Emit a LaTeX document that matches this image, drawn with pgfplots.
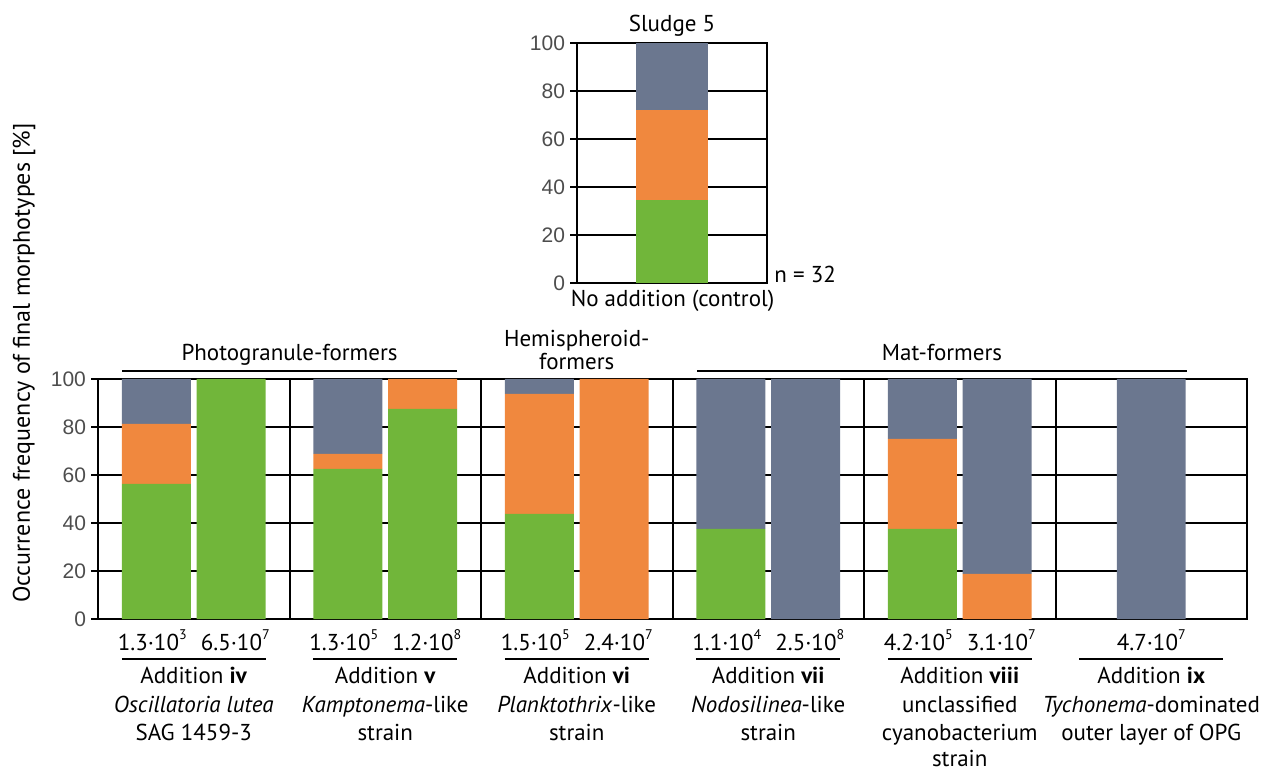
\documentclass[border=0pt]{standalone}
\usepackage{pgfplots}
\pgfplotsset{compat=1.18}
\usepackage{fontspec}
\setmainfont{PT Sans}
\newfontfamily\numfont{Liberation Sans}

\definecolor{cgreen}{HTML}{71B63A}
\definecolor{corange}{HTML}{F0883E}
\definecolor{cslate}{HTML}{6B778F}
\definecolor{ticktext}{HTML}{4D4D4D}

\newcommand{\lab}{\fontsize{11.5}{13}\selectfont}
\newcommand{\num}{\fontsize{11.5}{13}\selectfont}
\newcommand{\sci}[2]{#1·10\raisebox{0.45em}{\fontsize{7}{8}\selectfont #2}}

\pgfplotsset{
  morph/.style={
    scale only axis,
    ymin=0, ymax=100,
    ytick={0,20,...,100},
    ymajorgrids,
    grid style={black, line width=1pt},
    axis line style={black, line width=1pt},
    ytick pos=left,
    tick align=outside,
    major tick length=3.5pt,
    ytick style={black, line width=1pt},
    yticklabel style={font=\numfont\fontsize{10.5}{12}\selectfont, text=ticktext, xshift=1pt},
    /pgf/number format/assume math mode=true,
    ybar stacked,
    axis on top=false,
  },
}

\begin{document}
\begin{tikzpicture}[x=0.5pt, y=0.5pt]
\useasboundingbox (0,0) rectangle (1273,771);

% ---- control (no addition) ----
\begin{axis}[morph,
  at={(288.5pt,244pt)}, anchor=south west,
  width=95pt, height=120pt,
  xmin=0, xmax=1, xtick=\empty,
  bar width=0.38,
]
\addplot+[fill=cgreen, draw=none] coordinates {(0.5,34.375)};
\addplot+[fill=corange, draw=none] coordinates {(0.5,37.5)};
\addplot+[fill=cslate, draw=none] coordinates {(0.5,28.125)};
\end{axis}

% ---- additions iv to ix ----
\begin{axis}[morph,
  at={(49pt,76pt)}, anchor=south west,
  width=574.5pt, height=120pt,
  xmin=0, xmax=6,
  xtick={1,2,3,4,5}, xticklabels={}, xmajorgrids,
  xtick style={draw=none},
  bar width=0.36,
]
\addplot+[fill=cgreen, draw=none] coordinates {
  (0.305,56.25) (0.695,100) (1.305,62.5) (1.695,87.5) (2.305,43.75) (2.695,0)
  (3.305,37.5) (3.695,0) (4.305,37.5) (4.695,0) (5.5,0)};
\addplot+[fill=corange, draw=none] coordinates {
  (0.305,25) (0.695,0) (1.305,6.25) (1.695,12.5) (2.305,50) (2.695,100)
  (3.305,0) (3.695,0) (4.305,37.5) (4.695,18.75) (5.5,0)};
\addplot+[fill=cslate, draw=none] coordinates {
  (0.305,18.75) (0.695,0) (1.305,31.25) (1.695,0) (2.305,6.25) (2.695,0)
  (3.305,62.5) (3.695,100) (4.305,25) (4.695,81.25) (5.5,100)};
\end{axis}

% control labels
\node[anchor=base, font=\lab] at (672,739) {Sludge 5};
\node[anchor=base, font=\lab] at (672.5,464) {No addition (control)};
\node[anchor=base west, font=\lab, inner sep=0pt] at (774,488) {n = 32};

% y axis title
\node[rotate=90, font=\fontsize{12}{14}\selectfont] at (24,408) {Occurrence frequency of final morphotypes [\%]};

% morphotype groups
\node[anchor=base, font=\lab] at (289.5,410) {Photogranule-formers};
\draw[line width=1pt] (122,400) -- (457,400);
\node[anchor=base, font=\lab] at (576.75,424) {Hemispheroid-};
\node[anchor=base, font=\lab] at (576.75,401) {formers};
\node[anchor=base, font=\lab] at (942,410) {Mat-formers};
\draw[line width=1pt] (697,400) -- (1187,400);

% inoculum numbers and addition names
\foreach \c/\a/\b in {193.75/{\sci{1.3}{3}}/{\sci{6.5}{7}},
                      385.25/{\sci{1.3}{5}}/{\sci{1.2}{8}},
                      576.75/{\sci{1.5}{5}}/{\sci{2.4}{7}},
                      768.25/{\sci{1.1}{4}}/{\sci{2.5}{8}},
                      959.75/{\sci{4.2}{5}}/{\sci{3.1}{7}}} {
  \node[anchor=base, font=\num] at (\c-41.5,121) {\a};
  \node[anchor=base, font=\num] at (\c+41.5,121) {\b};
  \draw[line width=1pt] (\c-72,112) -- (\c+72,112);
}
\node[anchor=base, font=\num] at (1151.25,121) {\sci{4.7}{7}};
\draw[line width=1pt] (1151.25-72,112) -- (1151.25+72,112);

\begin{scope}[every node/.style={anchor=base, font=\lab, inner sep=0pt}]
\node at (193.75,88) {Addition \textbf{iv}};
\node at (193.75,59) {\textit{Oscillatoria lutea}};
\node at (193.75,31) {SAG 1459-3};
\node at (385.25,88) {Addition \textbf{v}};
\node at (385.25,59) {\textit{Kamptonema}-like};
\node at (385.25,31) {strain};
\node at (576.75,88) {Addition \textbf{vi}};
\node at (576.75,59) {\textit{Planktothrix}-like};
\node at (576.75,31) {strain};
\node at (768.25,88) {Addition \textbf{vii}};
\node at (768.25,59) {\textit{Nodosilinea}-like};
\node at (768.25,31) {strain};
\node at (959.75,88) {Addition \textbf{viii}};
\node at (959.75,59) {unclassified};
\node at (959.75,31) {cyanobacterium};
\node at (959.75,5) {strain};
\node at (1151.25,88) {Addition \textbf{ix}};
\node at (1151.25,59) {\textit{Tychonema}-dominated};
\node at (1151.25,31) {outer layer of OPG};
\end{scope}
\end{tikzpicture}
\end{document}
